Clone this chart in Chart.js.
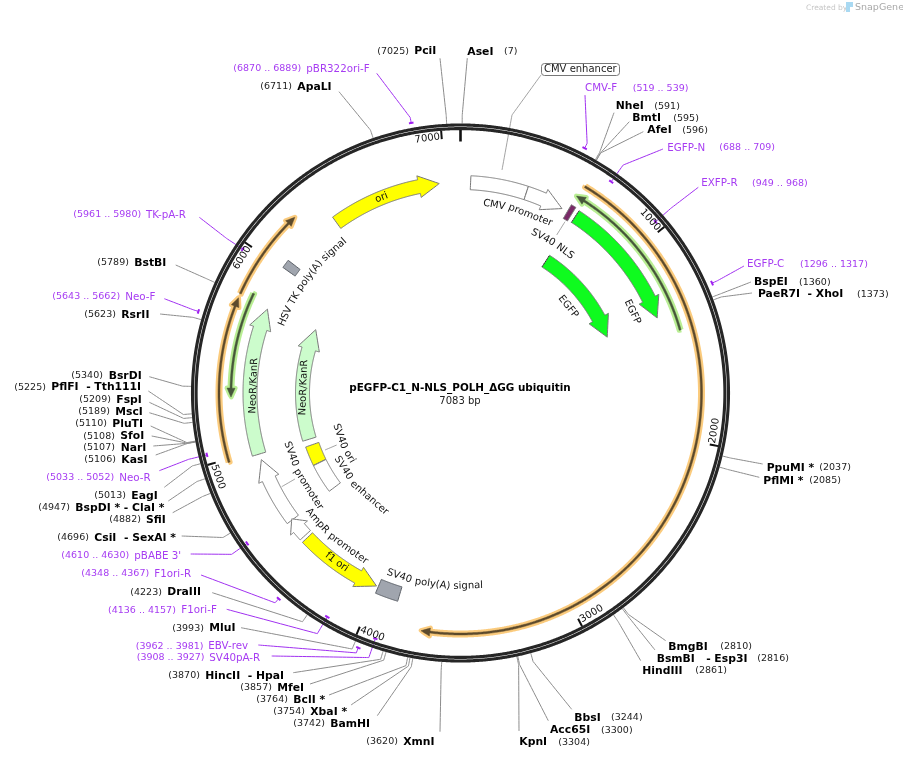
<!DOCTYPE html>
<html>
<head>
<meta charset="utf-8">
<title>pEGFP-C1_N-NLS_POLH_ΔGG ubiquitin</title>
<script src="https://cdn.jsdelivr.net/npm/chart.js@4"></script>
<style>
  html, body { margin: 0; padding: 0; background: #fff; overflow: hidden; }
  canvas { display: block; }
</style>
</head>
<body>
<canvas id="mapa" width="903" height="758"></canvas>
<script>
const plasmidName = "pEGFP-C1_N-NLS_POLH_ΔGG ubiquitin";
const plasmidLength = 7083;
const tickValues = [1000, 2000, 3000, 4000, 5000, 6000, 7000];

// restriction sites
const siteNames = ["AseI", "NheI", "BmtI", "AfeI", "BspEI", "PaeR7I  - XhoI", "PpuMI *", "PflMI *", "BmgBI", "BsmBI   - Esp3I", "HindIII", "BbsI", "Acc65I", "KpnI", "XmnI", "BamHI", "XbaI *", "BclI *", "MfeI", "HincII  - HpaI", "MluI", "DraIII", "CsiI  - SexAI *", "SfiI", "BspDI * - ClaI *", "EagI", "KasI", "NarI", "SfoI", "PluTI", "MscI", "FspI", "PflFI  - Tth111I", "BsrDI", "RsrII", "BstBI", "ApaLI", "PciI"];
const siteBp = [7, 591, 595, 596, 1360, 1373, 2037, 2085, 2810, 2816, 2861, 3244, 3300, 3304, 3620, 3742, 3754, 3764, 3857, 3870, 3993, 4223, 4696, 4882, 4947, 5013, 5106, 5107, 5108, 5110, 5189, 5209, 5225, 5340, 5623, 5789, 6711, 7025];

// primers
const primerNames = ["CMV-F", "EGFP-N", "EXFP-R", "EGFP-C", "SV40pA-R", "EBV-rev", "F1ori-F", "F1ori-R", "pBABE 3'", "Neo-R", "Neo-F", "TK-pA-R", "pBR322ori-F"];
const primerStart = [519, 688, 949, 1296, 3908, 3962, 4136, 4348, 4610, 5033, 5643, 5961, 6870];
const primerEnd = [539, 709, 968, 1317, 3927, 3981, 4157, 4367, 4630, 5052, 5662, 5980, 6889];

// features, tail -> tip in bp
const arrowNames = ["CMV promoter", "EGFP", "EGFP", "NeoR/KanR", "NeoR/KanR", "SV40 promoter", "AmpR promoter", "f1 ori", "ori"];
const arrowTail = [358, 650, 647, 4980, 4978, 4584, 4476, 4459, 6374];
const arrowTip = [567, 1360, 1361, 5774, 5777, 4948, 4590, 4004, 6969];
const boxNames = ["CMV enhancer", "SV40 NLS", "SV40 ori", "SV40 enhancer", "SV40 poly(A) signal", "HSV TK poly(A) signal"];
const boxStart = [54, 600, 4797, 4588, 3872, 6006];
const boxEnd = [358, 627, 4934, 4795, 3994, 6052];
const orfTail = [612, 1456, 4984, 5790, 5818];
const orfTip = [3727, 600, 5769, 6231, 5292];

// ---- layout, page pixels ----
const CX = 460.5, CY = 393;
const R_SITE = 269.5, R_ELBOW = 278, R_PRIMER_ELBOW = 280;
const TEXT_DY = 0.6;
const MONO = '"DejaVu Sans", sans-serif';

const siteLineEnd = [[467.3, 58], [614, 112.7], [629.3, 121.7], [643.3, 131.7], [751, 282], [752, 293], [762.7, 464], [759.3, 477.3], [665.7, 640.7], [655, 650], [640.7, 660.7], [571.7, 709.3], [548.3, 720.7], [519, 731], [440, 731.7], [377.3, 715.7], [351, 705], [329, 695], [310, 684], [293.3, 672.7], [241, 627.7], [212.3, 592.7], [181.7, 536], [172.7, 512.7], [168.3, 501], [164.3, 487.3], [155.7, 455], [153.3, 446], [151.7, 436], [150.7, 426], [149.3, 412.7], [149.3, 402.3], [148.3, 391], [149.3, 376.7], [160, 314], [175.7, 265], [339, 91.7], [440, 58.3]];
const siteNameX = [467.3, 615.7, 632.3, 647.3, 754, 758, 766.7, 763.3, 668.3, 656.7, 642.3, 574.3, 550, 519.3, 403.3, 330.3, 310.3, 293.3, 277.3, 205.3, 209.3, 167.3, 94.3, 146, 75.3, 131.3, 121.3, 120.7, 120.3, 112.3, 115.3, 116.3, 51.3, 108.7, 121.3, 134.3, 297.3, 414.3];
const sitePosX = [504, 654.3, 673.3, 682.3, 799, 857, 819.3, 809.3, 720.3, 757.3, 695.3, 611, 601, 558.3, 366.3, 293.3, 273.3, 256.3, 240.3, 168.3, 172.3, 130.3, 57.3, 109.3, 38.3, 94.3, 84.3, 83.3, 83.3, 75.3, 78.3, 79.3, 14.3, 71.3, 84.3, 97.3, 260.3, 377.3];
const siteY = [51.3, 105.7, 117.7, 129.7, 282, 294, 467.3, 480.3, 646.3, 658.3, 670.3, 717.3, 729.7, 741.7, 741.3, 723.3, 711.3, 699.3, 687.3, 675.3, 627.7, 591.7, 537.3, 519.3, 507.3, 495.3, 459.3, 447.3, 435.7, 423.3, 411.3, 399.3, 387, 375.3, 314.3, 262.3, 86.3, 51];

const primerRadius = [274.5, 259.5, 259.5, 274.5, 260, 274.5, 260.5, 274.5, 261, 261, 274.5, 261, 274.5];
const primerLineEnd = [[585, 95], [663, 149], [698.3, 187.3], [744, 266], [271.7, 656], [258.3, 645], [226.7, 609.3], [201, 575], [190.7, 554], [159.3, 470.7], [164.3, 298.7], [199.3, 217.3], [376.7, 73.3]];
const primerNameX = [585, 667.3, 701.3, 747, 209.3, 208.3, 181.3, 154.3, 134.3, 119.3, 125.3, 146, 306.3];
const primerPosX = [632.7, 719.3, 752, 800, 136.7, 135.7, 108, 81.3, 61.3, 46.3, 52.3, 73.3, 233.3];
const primerY = [87.7, 147.3, 183, 264, 657.3, 645.7, 609.7, 573.3, 555.3, 477.3, 296.3, 214.3, 68.3];

const arrowRadius = [210.5, 210.5, 157, 210.5, 158, 210, 210.5, 210.5, 210.5];
const arrowFill = ["#ffffff", "#0ffb1f", "#0ffb1f", "#ccfccc", "#ccfccc", "#ffffff", "#ffffff", "#ffff00", "#ffff00"];
const boxRadius = [210.5, 210.5, 157, 157, 210, 210];
const boxHalf = [7, 8, 7, 7, 7.5, 7.5];
const boxFill = ["#ffffff", "#7a2a68", "#ffff00", "#ffffff", "#a0a5ae", "#a0a5ae"];
const orfRadius = [241, 228.5, 241.5, 241.5, 229.5];
const orfGlow = ["#fbcb7d", "#b9ee94", "#fbcb7d", "#fbcb7d", "#b9ee94"];
const orfCore = ["#5c4a2c", "#46563a", "#5c4a2c", "#5c4a2c", "#46563a"];

// text on the circle: text, angle in degrees, radius
const arcLabels = [
  ["CMV promoter", 17.6, 191], ["SV40 NLS", 31.7, 176], ["EGFP", 64.7, 190], ["EGFP", 51.3, 138],
  ["ori", 338, 210.6], ["HSV TK poly(A) signal", 306.8, 191], ["NeoR/KanR", 272, 207], ["NeoR/KanR", 272, 157],
  ["SV40 ori", 246.6, 128], ["SV40 enhancer", 227, 139], ["SV40 promoter", 242.3, 180], ["AmpR promoter", 220.8, 192],
  ["f1 ori", 216.2, 209.7], ["SV40 poly(A) signal", 187.8, 193]
];
// thin leaders of feature labels, page pixels
const featureLeaders = [
  [[541, 75], [512, 115], [502, 170]],
  [[565, 221.7], [556.7, 235]],
  [[325, 450], [336.7, 445]],
  [[281.7, 486.7], [295, 479]]
];

function bpToDeg(bp) {
  return bp / plasmidLength * 360;
}

function polar(deg, r) {
  const a = deg * Math.PI / 180;
  return { x: r * Math.sin(a), y: r * Math.cos(a) };
}

function onRing(bp, r) {
  return polar(bpToDeg(bp), r);
}

function fromPage(p) {
  return { x: p[0] - CX, y: CY - p[1] };
}

function arcPoints(fromBp, toBp, r) {
  const pts = [];
  const n = Math.max(2, Math.ceil(Math.abs(toBp - fromBp) / 8));
  for (let i = 0; i <= n; i++) {
    pts.push(onRing(fromBp + (toBp - fromBp) * i / n, r));
  }
  return pts;
}

function arrowPoints(tail, tip, r, halfBody, halfHead, headPx) {
  const dir = tip > tail ? 1 : -1;
  const lenPx = Math.abs(tip - tail) / plasmidLength * 2 * Math.PI * r;
  const head = Math.min(headPx, lenPx * 0.55) / (2 * Math.PI * r) * plasmidLength;
  const base = tip - dir * head;
  const pts = arcPoints(tail, base, r + halfBody);
  pts.push(onRing(base, r + halfHead));
  pts.push(onRing(tip, r));
  pts.push(onRing(base, r - halfHead));
  arcPoints(base, tail, r - halfBody).forEach(p => pts.push(p));
  pts.push(pts[0]);
  return pts;
}

function boxPoints(start, end, r, half) {
  const pts = arcPoints(start, end, r + half);
  arcPoints(end, start, r - half).forEach(p => pts.push(p));
  pts.push(pts[0]);
  return pts;
}

const datasets = [];
function addLine(points, color, width, extra) {
  datasets.push(Object.assign({
    data: points,
    showLine: true,
    pointRadius: 0,
    // a tiny tension keeps chart.js off its pixel-merging fast path, steep arcs get jagged otherwise
    tension: 0.0001,
    borderColor: color,
    borderWidth: width,
    fill: false,
    order: -datasets.length
  }, extra || {}));
}
function addShape(points, fillColor, color, width) {
  addLine(points, color, width, { backgroundColor: fillColor, fill: "shape", borderJoinStyle: "round" });
}

// leaders go under the ring
siteBp.forEach((bp, i) => {
  addLine([onRing(bp, R_SITE), onRing(bp, R_ELBOW), fromPage(siteLineEnd[i])], "#8c8c8c", 1);
});
primerNames.forEach((name, i) => {
  const mid = (primerStart[i] + primerEnd[i]) / 2;
  addLine([onRing(mid, primerRadius[i]), onRing(mid, R_PRIMER_ELBOW), fromPage(primerLineEnd[i])], "#a030f0", 1);
});
featureLeaders.forEach(l => addLine(l.map(fromPage), "#8c8c8c", 0.8));

// the backbone
addLine(arcPoints(0, plasmidLength, 268), "#262626", 3.1);
addLine(arcPoints(0, plasmidLength, 264.4), "#262626", 3.1);

tickValues.forEach(v => addLine([onRing(v, 254.5), onRing(v, 263)], "#111111", 2));
addLine([onRing(0, 251.5), onRing(0, 263)], "#111111", 2.6);

primerNames.forEach((name, i) => {
  addLine(arcPoints(primerStart[i], primerEnd[i], primerRadius[i]), "#a020f0", 2);
});

orfTail.forEach((tail, i) => {
  const pts = arrowPoints(tail, orfTip[i], orfRadius[i], 1, 4, 9);
  addShape(pts, orfGlow[i], orfGlow[i], 5);
  addShape(pts, orfCore[i], orfCore[i], 0.5);
});

boxStart.forEach((start, i) => {
  addShape(boxPoints(start, boxEnd[i], boxRadius[i], boxHalf[i]), boxFill[i], i >= 4 ? "#5a5f66" : "#777777", 1);
});
arrowTail.forEach((tail, i) => {
  addShape(arrowPoints(tail, arrowTip[i], arrowRadius[i], 7, 11, 20.5), arrowFill[i], "#777777", 1);
});
// dotted fusion ends of the two EGFP arrows
[1, 2].forEach(i => {
  addLine([onRing(arrowTail[i], arrowRadius[i] - 7), onRing(arrowTail[i], arrowRadius[i] + 7)], "#222222", 1, { borderDash: [1, 1] });
});

function drawText(ctx, text, x, y, font, color) {
  ctx.font = font;
  ctx.fillStyle = color;
  ctx.textAlign = "left";
  ctx.textBaseline = "middle";
  ctx.fillText(text, x, y + TEXT_DY);
}

// rotated text centered at a polar position
function drawRotated(chart, text, deg, r, rot) {
  const ctx = chart.ctx;
  const p = polar(deg, r);
  ctx.save();
  ctx.translate(chart.scales.x.getPixelForValue(p.x), chart.scales.y.getPixelForValue(p.y));
  ctx.rotate(rot * Math.PI / 180);
  ctx.fillText(text, 0, 0);
  ctx.restore();
}

// word by word along the circle
function drawOnArc(chart, text, deg, r) {
  const ctx = chart.ctx;
  const flip = deg > 90 && deg < 270;
  const dir = flip ? -1 : 1;
  const total = ctx.measureText(text).width;
  const space = ctx.measureText(" ").width;
  let pos = -total / 2;
  text.split(" ").forEach(word => {
    const w = ctx.measureText(word).width;
    const a = deg + dir * (pos + w / 2) / r * 180 / Math.PI;
    drawRotated(chart, word, a, r, flip ? a - 180 : a);
    pos += w + space;
  });
}

const textPlugin = {
  id: "textos",
  afterDatasetsDraw(chart) {
    const ctx = chart.ctx;
    ctx.save();

    siteNames.forEach((name, i) => {
      drawText(ctx, name, siteNameX[i], siteY[i], "bold 10.8px " + MONO, "#000000");
      drawText(ctx, "(" + siteBp[i] + ")", sitePosX[i], siteY[i], "9.5px " + MONO, "#222222");
    });
    primerNames.forEach((name, i) => {
      drawText(ctx, name, primerNameX[i], primerY[i], "10.3px " + MONO, "#a63cf2");
      drawText(ctx, "(" + primerStart[i] + " .. " + primerEnd[i] + ")", primerPosX[i], primerY[i], "9.5px " + MONO, "#a63cf2");
    });

    ctx.textAlign = "center";
    ctx.textBaseline = "middle";
    ctx.font = "10px " + MONO;
    ctx.fillStyle = "#111111";
    tickValues.forEach(v => {
      const deg = bpToDeg(v) - 3.2;
      const flip = deg > 90 && deg < 270;
      drawRotated(chart, String(v), deg, 256.7, flip ? deg - 180 : deg);
    });
    arcLabels.forEach(l => drawOnArc(chart, l[0], l[1], l[2]));

    // boxed label
    ctx.fillStyle = "#ffffff";
    ctx.strokeStyle = "#777777";
    ctx.lineWidth = 1;
    ctx.beginPath();
    ctx.roundRect(541.5, 63.5, 78, 12, 3);
    ctx.fill();
    ctx.stroke();
    drawText(ctx, boxNames[0], 544, 69.2, "10px " + MONO, "#222222");

    ctx.textAlign = "center";
    ctx.fillStyle = "#000000";
    ctx.font = "bold 10.4px " + MONO;
    ctx.fillText(plasmidName, 460, 388.5);
    ctx.fillStyle = "#222222";
    ctx.font = "10px " + MONO;
    ctx.fillText(plasmidLength + " bp", 460, 401);

    // credit in the corner
    drawText(ctx, "Created by", 806, 7, "7.5px " + MONO, "#c6c6c6");
    ctx.fillStyle = "#a9d9f2";
    ctx.fillRect(846, 2, 4, 10);
    ctx.fillRect(850, 2, 3, 5);
    drawText(ctx, "SnapGene", 855, 7, "9.5px " + MONO, "#a8a8a8");
    ctx.restore();
  }
};

new Chart(document.getElementById("mapa"), {
  type: "scatter",
  data: { datasets },
  options: {
    responsive: false,
    animation: false,
    events: [],
    layout: { padding: 0 },
    plugins: { legend: { display: false }, tooltip: { enabled: false }, title: { display: false } },
    scales: {
      x: { type: "linear", display: false, min: -CX, max: 903 - CX },
      y: { type: "linear", display: false, min: CY - 758, max: CY }
    }
  },
  plugins: [textPlugin]
});
</script>
</body>
</html>
